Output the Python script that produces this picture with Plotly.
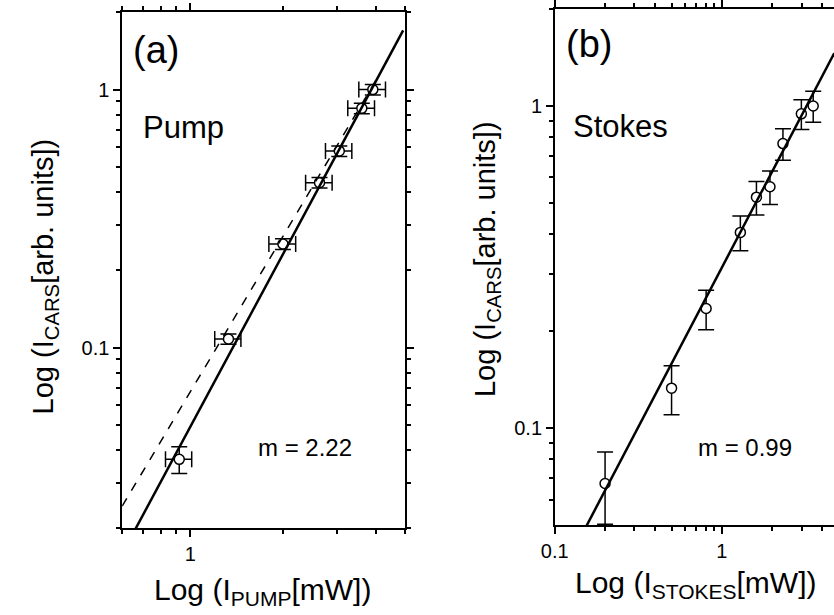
import numpy as np
import plotly.graph_objects as go

# ---------------- data ----------------
# Panel (a): Pump power dependence
pump_x = [0.92, 1.33, 2.0, 2.63, 3.05, 3.61, 3.92]
pump_y = [0.0369, 0.108, 0.252, 0.436, 0.578, 0.846, 1.0]
pump_xerr = [0.09, 0.13, 0.2, 0.26, 0.3, 0.36, 0.39]
pump_yerr = [0.0044, 0.005, 0.012, 0.02, 0.027, 0.04, 0.047]

# fit (solid, m = 2.22) and quadratic reference (dashed)
pump_fit_x = [0.6, 4.92]
pump_fit_m = 2.22
pump_fit_A = 0.0494
pump_ref_x = [0.6, 4.1]
pump_ref_m = 2.0
pump_ref_A = 0.0675

# Panel (b): Stokes power dependence
stokes_x = [0.2, 0.5, 0.805, 1.29, 1.61, 1.94, 2.32, 2.99, 3.52]
stokes_y = [0.0673, 0.133, 0.235, 0.405, 0.521, 0.561, 0.764, 0.945, 1.0]
stokes_yerr = [0.017, 0.023, 0.033, 0.05, 0.062, 0.067, 0.086, 0.1, 0.11]

stokes_fit_x = [0.1, 4.7]
stokes_fit_m = 0.99
stokes_fit_A = 0.315

# ---------------- figure ----------------
W, H = 834, 615
FONT = "Liberation Sans, Arial, Helvetica, sans-serif"

def px_x(p):
    return p / W

def px_y(p):
    return 1 - p / H

def power(xs, A, m):
    xs = np.array(xs, dtype=float)
    return A * xs ** m

fig = go.Figure()

marker = dict(symbol="circle", size=10, color="white",
              line=dict(color="black", width=1.5))
err = dict(color="black", thickness=1.5, width=8)

fig.add_trace(go.Scatter(
    x=pump_x, y=pump_y, mode="markers", marker=marker,
    error_x=dict(type="data", array=pump_xerr, visible=True, **err),
    error_y=dict(type="data", array=pump_yerr, visible=True, **err),
    xaxis="x", yaxis="y", showlegend=False))
fig.add_trace(go.Scatter(
    x=pump_ref_x, y=power(pump_ref_x, pump_ref_A, pump_ref_m), mode="lines",
    line=dict(color="black", width=1.5, dash="dash"),
    xaxis="x", yaxis="y", showlegend=False))
fig.add_trace(go.Scatter(
    x=pump_fit_x, y=power(pump_fit_x, pump_fit_A, pump_fit_m), mode="lines",
    line=dict(color="black", width=2.5),
    xaxis="x", yaxis="y", showlegend=False))
fig.add_trace(go.Scatter(
    x=stokes_x, y=stokes_y, mode="markers", marker=marker,
    error_y=dict(type="data", array=stokes_yerr, visible=True, **err),
    xaxis="x2", yaxis="y2", showlegend=False))
fig.add_trace(go.Scatter(
    x=stokes_fit_x, y=power(stokes_fit_x, stokes_fit_A, stokes_fit_m), mode="lines",
    line=dict(color="black", width=2.5),
    xaxis="x2", yaxis="y2", showlegend=False))

axis_common = dict(
    type="log", showgrid=False, zeroline=False,
    showline=True, linecolor="black", linewidth=1.5,
    ticks="outside", ticklen=7, tickwidth=1.5, tickcolor="black",
    tickfont=dict(family=FONT, size=20, color="black"),
)

def minor(vals):
    return dict(tickmode="array", tickvals=vals, ticks="outside",
                ticklen=4, tickwidth=1.5, tickcolor="black")

fig.update_layout(
    width=W, height=H,
    margin=dict(l=0, r=0, t=0, b=0),
    paper_bgcolor="white", plot_bgcolor="white",
    xaxis=dict(axis_common, domain=[px_x(110), px_x(398)],
               range=[np.log10(0.6), np.log10(5)], anchor="y",
               mirror="ticks", tickmode="array", tickvals=[1], ticktext=["1"],
               minor=minor([0.6, 0.7, 0.8, 0.9, 2, 3, 4, 5])),
    yaxis=dict(axis_common, domain=[px_y(527), px_y(5)],
               range=[np.log10(0.02), np.log10(2)], anchor="x",
               mirror="ticks", tickmode="array", tickvals=[0.1, 1], ticktext=["0.1", "1"],
               minor=minor([0.02, 0.03, 0.04, 0.05, 0.06, 0.07, 0.08, 0.09,
                            0.2, 0.3, 0.4, 0.5, 0.6, 0.7, 0.8, 0.9, 2])),
    xaxis2=dict(axis_common, domain=[px_x(550), 1.0],
                range=[-1, 0.671], anchor="y2",
                mirror="ticks", tickmode="array", tickvals=[0.1, 1], ticktext=["0.1", "1"],
                minor=minor([0.2, 0.3, 0.4, 0.5, 0.6, 0.7, 0.8, 0.9, 2, 3, 4])),
    yaxis2=dict(axis_common, domain=[px_y(524), px_y(2)],
                range=[np.log10(0.05), np.log10(2)], anchor="x2",
                mirror=False, tickmode="array", tickvals=[0.1, 1], ticktext=["0.1", "1"],
                minor=minor([0.06, 0.07, 0.08, 0.09, 0.2, 0.3, 0.4, 0.5,
                             0.6, 0.7, 0.8, 0.9, 2])),
)

def ann(text, x, y, size, angle=0):
    fig.add_annotation(text=text, x=px_x(x), y=px_y(y), xref="paper", yref="paper",
                       xanchor="center", yanchor="middle", showarrow=False,
                       textangle=angle, font=dict(family=FONT, size=size, color="black"))

ann("(a)", 144, 43, 38)
ann("Pump", 172, 122, 31)
ann("m = 2.22", 296, 446, 24)
ann("(b)", 585, 37, 38)
ann("Stokes", 617, 121, 31)
ann("m = 0.99", 743, 446, 24)

ann("Log (I<sub>CARS</sub>[arb. units])", 31, 272, 29, angle=-90)
ann("Log (I<sub>CARS</sub>[arb. units])", 481, 255, 29, angle=-90)
ann("Log (I<sub>PUMP</sub>[mW])", 253, 591, 30)
ann("Log (I<sub>STOKES</sub>[mW])", 694, 584, 30)

fig.write_html("out.html")
